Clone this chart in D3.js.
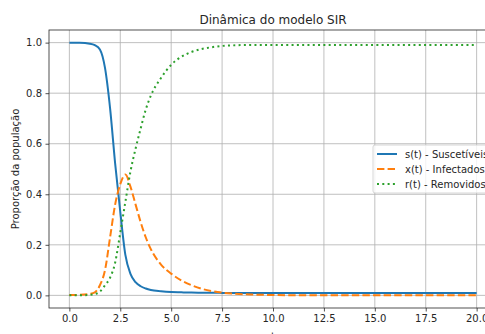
<!DOCTYPE html>
<html>
<head>
<meta charset="utf-8">
<script src="https://cdn.jsdelivr.net/npm/d3@7"></script>
<style>
  body { margin: 0; background: #fff; }
  svg { display: block; font-family: "DejaVu Sans", sans-serif; }
</style>
</head>
<body>
<div id="chart"></div>
<script>
// values
const times = [0, 0.5, 1.0, 1.25, 1.5, 1.75, 2.0, 2.25, 2.5, 2.75, 3.0, 3.25, 3.5, 3.75, 4.0, 4.5, 5.0, 5.5, 6.0, 6.5, 7.0, 7.5, 8.0, 9.0, 10.0, 12.0, 14.0, 16.0, 18.0, 20.0];
const suscetiveis = [1.0, 0.9995, 0.996, 0.99, 0.973, 0.90, 0.74, 0.52, 0.33, 0.16, 0.085, 0.052, 0.036, 0.027, 0.021, 0.016, 0.013, 0.012, 0.011, 0.0105, 0.010, 0.0098, 0.0096, 0.0094, 0.0093, 0.0092, 0.0092, 0.0092, 0.0092, 0.0092];
const infectados = [0.001, 0.002, 0.006, 0.012, 0.04, 0.10, 0.23, 0.36, 0.44, 0.478, 0.43, 0.36, 0.29, 0.23, 0.183, 0.122, 0.086, 0.059, 0.04, 0.026, 0.017, 0.011, 0.007, 0.003, 0.0015, 0.0003, 0.0001, 0, 0, 0];
const removidos = [0, 0.0, 0.002, 0.005, 0.015, 0.04, 0.07, 0.13, 0.248, 0.37, 0.49, 0.58, 0.66, 0.735, 0.79, 0.86, 0.912, 0.944, 0.963, 0.975, 0.982, 0.987, 0.989, 0.991, 0.991, 0.991, 0.991, 0.991, 0.991, 0.991];
const xTicks = [0, 2.5, 5, 7.5, 10, 12.5, 15, 17.5, 20];
const yTicks = [0, 0.2, 0.4, 0.6, 0.8, 1.0];
const labels = ["s(t) - Suscetíveis", "x(t) - Infectados", "r(t) - Removidos"];

const W = 485, H = 334;
const margin = {top: 30, right: -12, bottom: 26, left: 49};
const width = W - margin.left - margin.right;
const height = H - margin.top - margin.bottom;

const svg = d3.select("#chart").append("svg")
  .attr("width", W).attr("height", H);
const g = svg.append("g")
  .attr("transform", "translate(" + margin.left + "," + margin.top + ")");

const xScale = d3.scaleLinear().domain([-1, 21]).range([0, width]);
const yScale = d3.scaleLinear().domain([-0.05, 1.05]).range([height, 0]);

// grid
g.append("g").selectAll("line").data(xTicks).join("line")
  .attr("x1", d => xScale(d)).attr("x2", d => xScale(d))
  .attr("y1", 0).attr("y2", height)
  .attr("stroke", "#b0b0b0").attr("stroke-width", 0.8);
g.append("g").selectAll("line").data(yTicks).join("line")
  .attr("x1", 0).attr("x2", width)
  .attr("y1", d => yScale(d)).attr("y2", d => yScale(d))
  .attr("stroke", "#b0b0b0").attr("stroke-width", 0.8);

svg.append("defs").append("clipPath").attr("id", "clip")
  .append("rect").attr("width", width).attr("height", height);

const series = [
  {values: suscetiveis, color: "#1f77b4", dash: null},
  {values: infectados, color: "#ff7f0e", dash: "7.4,3.2"},
  {values: removidos, color: "#2ca02c", dash: "2,3.3"}
];

const line = d3.line()
  .x(d => xScale(d[0]))
  .y(d => yScale(d[1]))
  .curve(d3.curveMonotoneX);

const plot = g.append("g").attr("clip-path", "url(#clip)");
series.forEach(s => {
  plot.append("path")
    .datum(times.map((t, i) => [t, s.values[i]]))
    .attr("fill", "none")
    .attr("stroke", s.color)
    .attr("stroke-width", 2)
    .attr("stroke-dasharray", s.dash)
    .attr("d", line);
});

// axes
const xAxis = g.append("g")
  .attr("transform", "translate(0," + height + ")")
  .call(d3.axisBottom(xScale).tickValues(xTicks).tickFormat(d3.format(".1f")).tickSize(3.5).tickPadding(3.5));
const yAxis = g.append("g")
  .call(d3.axisLeft(yScale).tickValues(yTicks).tickFormat(d3.format(".1f")).tickSize(3.5).tickPadding(3.5));
[xAxis, yAxis].forEach(a => {
  a.select(".domain").remove();
  a.selectAll("text").attr("font-size", 10).attr("fill", "#262626").attr("font-family", "DejaVu Sans");
  a.selectAll("line").attr("stroke", "#262626").attr("stroke-width", 0.8);
});

// spines
g.append("rect")
  .attr("width", width).attr("height", height)
  .attr("fill", "none").attr("stroke", "#262626").attr("stroke-width", 0.8);

// title and labels
svg.append("text")
  .attr("x", margin.left + width / 2).attr("y", 24)
  .attr("text-anchor", "middle").attr("font-size", 12).attr("fill", "#262626")
  .text("Dinâmica do modelo SIR");
svg.append("text")
  .attr("x", margin.left + width / 2).attr("y", 340)
  .attr("text-anchor", "middle").attr("font-size", 10).attr("fill", "#262626")
  .text("t");
svg.append("text")
  .attr("transform", "translate(19," + (margin.top + height / 2) + ") rotate(-90)")
  .attr("text-anchor", "middle").attr("font-size", 10).attr("fill", "#262626")
  .text("Proporção da população");

// legend
const lg = svg.append("g").attr("transform", "translate(373,145)");
lg.append("rect")
  .attr("width", 119).attr("height", 48).attr("rx", 2)
  .attr("fill", "#fff").attr("fill-opacity", 0.8)
  .attr("stroke", "#cccccc").attr("stroke-width", 0.8);
series.forEach((s, i) => {
  const yy = 9 + i * 15;
  lg.append("line")
    .attr("x1", 4).attr("x2", 24).attr("y1", yy).attr("y2", yy)
    .attr("stroke", s.color).attr("stroke-width", 2)
    .attr("stroke-dasharray", s.dash);
  lg.append("text")
    .attr("x", 32).attr("y", yy).attr("dy", "0.35em")
    .attr("font-size", 10).attr("fill", "#262626")
    .text(labels[i]);
});
</script>
</body>
</html>
